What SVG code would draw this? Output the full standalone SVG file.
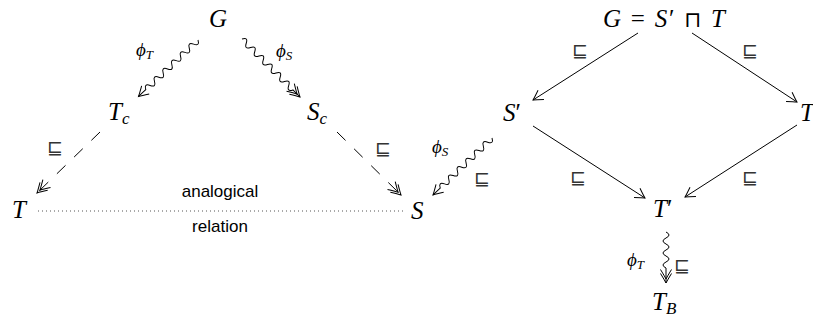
<svg xmlns="http://www.w3.org/2000/svg" width="813" height="321" viewBox="0 0 813 321">
<style>
.m{font-family:"Liberation Serif","Times New Roman",serif;font-style:italic;font-size:25px;fill:#000}
.lbl{font-family:"Liberation Serif",serif;font-style:italic;font-size:19px;fill:#000}
.sub{font-size:13px}
.sq{font-family:"DejaVu Sans",sans-serif;font-size:19px;fill:#333;text-anchor:middle}
.txt{font-family:"Liberation Sans",Arial,sans-serif;font-size:17px;fill:#000;text-anchor:middle}
.ln{fill:none;stroke:#000;stroke-width:1}
.dash{stroke-dasharray:12 12}
.dot{stroke:#555;stroke-width:1;stroke-dasharray:1 3}
</style>
<defs>
<marker id="to" markerUnits="userSpaceOnUse" markerWidth="16" markerHeight="16" viewBox="-12 -8 16 16" refX="0" refY="0" orient="auto" overflow="visible">
<path d="M-9.5,-5.5 Q-3,-1.5 0,0 Q-3,1.5 -9.5,5.5" fill="none" stroke="#000" stroke-width="1" stroke-dasharray="none"/>
</marker>
<marker id="to2" markerUnits="userSpaceOnUse" markerWidth="20" markerHeight="16" viewBox="-16 -8 20 16" refX="0" refY="0" orient="auto" overflow="visible">
<path d="M-9.5,-5.5 Q-3,-1.5 0,0 Q-3,1.5 -9.5,5.5 M-13.5,-5.5 Q-7,-1.5 -4,0 Q-7,1.5 -13.5,5.5" fill="none" stroke="#000" stroke-width="1" stroke-dasharray="none"/>
</marker>
</defs>

<g id="connectors">
<path class="ln" marker-end="url(#to)" transform="translate(198,40) rotate(136.5)" d="M0,0 q3,-6 6,0 t6,0 t6,0 t6,0 t6,0 t6,0 t6,0 t6,0 t6,0 t6,0 t6,0 t6,0 h10"/>
<path class="ln" marker-end="url(#to2)" transform="translate(242,39) rotate(45)" d="M0,0 q3,-6 6,0 t6,0 t6,0 t6,0 t6,0 t6,0 t6,0 t6,0 t6,0 t6,0 t6,0 t6,0 h10"/>
<path class="ln dash" marker-end="url(#to2)" d="M100,132 L37,193"/>
<path class="ln dash" marker-end="url(#to2)" d="M337,132 L401,195"/>
<path class="ln dot" d="M38,211 L406,211"/>
<path class="ln" marker-end="url(#to)" d="M638,33 L533,100"/>
<path class="ln" marker-end="url(#to)" d="M692,33 L797,102"/>
<path class="ln" marker-end="url(#to)" d="M533,126 L645,198"/>
<path class="ln" marker-end="url(#to)" d="M797,125 L685,197"/>
<path class="ln" marker-end="url(#to)" transform="translate(492,138) rotate(136)" d="M0,0 q3,-6 6,0 t6,0 t6,0 t6,0 t6,0 t6,0 t6,0 t6,0 t6,0 t6,0 t6,0 t6,0 h10"/>
<path class="ln" marker-end="url(#to2)" transform="translate(666,232) rotate(90)" d="M0,0 q3,-6 6,0 t6,0 t6,0 t6,0 t6,0 t6,0 h15"/>
<text class="lbl" x="136" y="56">ϕ<tspan class="sub" dy="3">T</tspan></text>
<text class="lbl" x="276" y="57">ϕ<tspan class="sub" dy="3">S</tspan></text>
<text class="lbl" x="432" y="153">ϕ<tspan class="sub" dy="3">S</tspan></text>
<text class="lbl" x="627" y="266">ϕ<tspan class="sub" dy="3">T</tspan></text>
<text class="sq" x="55" y="154">⊑</text>
<text class="sq" x="383" y="155">⊑</text>
<text class="sq" x="580" y="57">⊑</text>
<text class="sq" x="750" y="57">⊑</text>
<text class="sq" x="482" y="185">⊑</text>
<text class="sq" x="578" y="184">⊑</text>
<text class="sq" x="750" y="184">⊑</text>
<text class="sq" x="682" y="272">⊑</text>
<text class="txt" x="220" y="197">analogical</text>
<text class="txt" x="220" y="232">relation</text>
</g>

<g id="node-G"><text class="m" x="218" y="27" text-anchor="middle">G</text></g>
<g id="node-Tc"><text class="m" x="108" y="120">T<tspan font-size="17" dy="4">c</tspan></text></g>
<g id="node-Sc"><text class="m" x="307" y="120">S<tspan font-size="17" dy="4">c</tspan></text></g>
<g id="node-T"><text class="m" x="12" y="218">T</text></g>
<g id="node-S"><text class="m" x="411" y="219">S</text></g>
<g id="node-Gmeet"><text class="m" x="603" y="27" textLength="122" lengthAdjust="spacing">G<tspan font-style="normal"> = </tspan>S<tspan font-style="normal">′ </tspan><tspan font-style="normal" font-family="DejaVu Sans,sans-serif" font-size="22">⊓</tspan> T</text></g>
<g id="node-Sprime"><text class="m" x="503" y="121">S<tspan font-style="normal">′</tspan></text></g>
<g id="node-Tright"><text class="m" x="800" y="121">T</text></g>
<g id="node-Tprime"><text class="m" x="653" y="217">T<tspan font-style="normal">′</tspan></text></g>
<g id="node-TB"><text class="m" x="652" y="310">T<tspan font-size="17" dy="4">B</tspan></text></g>
</svg>
